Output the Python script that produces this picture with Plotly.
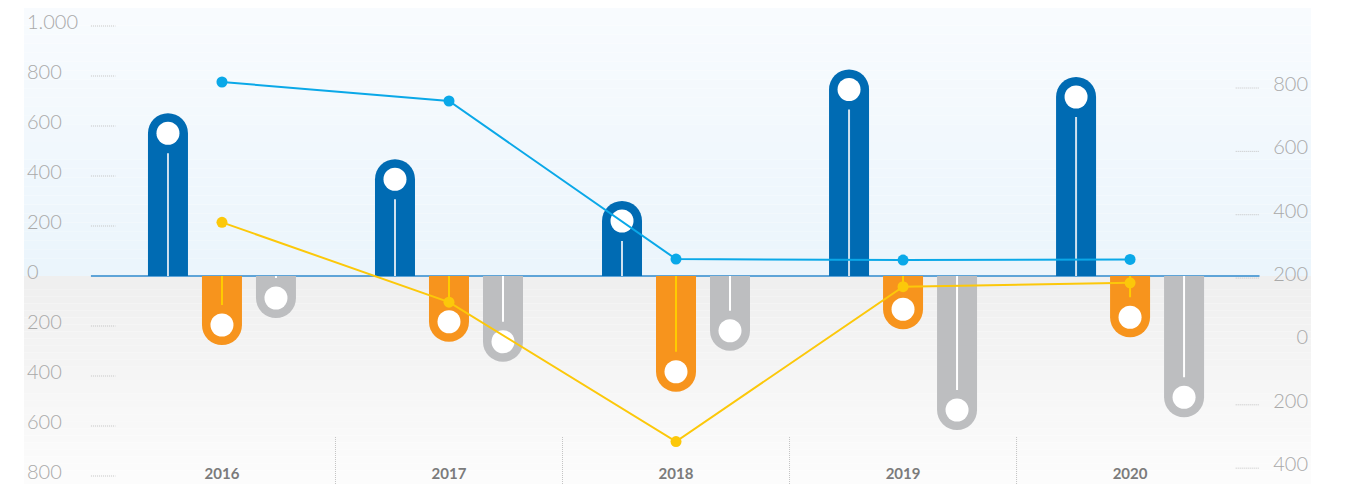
import plotly.graph_objects as go

years = ["2016", "2017", "2018", "2019", "2020"]
blue_bars = [651, 467, 300, 826, 796]
orange_bars = [-276, -263, -463, -213, -245]
gray_bars = [-168, -343, -299, -616, -565]
blue_line = [819, 759, 260, 257, 259]
yellow_line = [376, 124, -316, 173, 185]

left_ticks = [-800, -600, -400, -200, 0, 200, 400, 600, 800, 1000]
right_ticks = [-400, -200, 0, 200, 400, 600, 800]

# page has an 8px body margin, so the figure is drawn 8px smaller
W, H = 1337, 476
ML, MR = 16, 34
X_RANGE = [-0.872, 4.797]
Y_RANGE = [-832, 1072]
Y2_RANGE = [-450, 1052.6]

px_x = (W - ML - MR) / (X_RANGE[1] - X_RANGE[0])   # pixels per category
px_y = H / (Y_RANGE[1] - Y_RANGE[0])               # pixels per left-axis unit

BAR_W = 40 / px_x
GAP = 54 / px_x
CAP = 20 / px_y      # distance from bar end to circle centre
STEM = 40 / px_y     # distance from bar end to end of inner line


def fmt(v):
    return f"{abs(v):,}".replace(",", ".")


fig = go.Figure()

series = [
    (blue_bars, -GAP, "#006bb3", "#cfe1ef"),
    (orange_bars, 0, "#f7941d", "#ffcc00"),
    (gray_bars, GAP, "#bdbec0", "#ffffff"),
]

for vals, off, col, stem_col in series:
    xs = [i + off for i in range(len(years))]
    fig.add_trace(go.Bar(
        x=xs, y=vals, width=BAR_W,
        marker=dict(color=col, line_width=0, cornerradius="50%"),
        hoverinfo="skip",
    ))
    # inner thin line from base towards the circle
    lx, ly = [], []
    for x, v in zip(xs, vals):
        s = 1 if v > 0 else -1
        lx += [x, x, None]
        ly += [0, v - s * STEM, None]
    fig.add_trace(go.Scatter(
        x=lx, y=ly, mode="lines",
        line=dict(color=stem_col, width=2), hoverinfo="skip",
    ))
    # white circle near the bar end
    fig.add_trace(go.Scatter(
        x=xs, y=[v - (1 if v > 0 else -1) * CAP for v in vals],
        mode="markers", marker=dict(color="white", size=23, line_width=0),
        hoverinfo="skip",
    ))

fig.add_trace(go.Scatter(
    x=list(range(len(years))), y=blue_line, yaxis="y2", mode="lines+markers",
    line=dict(color="#0aa8e8", width=2), marker=dict(size=11, color="#0aa8e8"),
))
fig.add_trace(go.Scatter(
    x=list(range(len(years))), y=yellow_line, yaxis="y2", mode="lines+markers",
    line=dict(color="#fcc80a", width=2), marker=dict(size=11, color="#fcc80a"),
))

# background gradient: light blue above zero, light gray below
shapes = []
n = 30
def mix(a, b, t):
    return "rgb(%d,%d,%d)" % tuple(round(a[k] + (b[k] - a[k]) * t) for k in range(3))

for k in range(n):
    t = k / (n - 1)
    y0 = Y_RANGE[1] * k / n
    y1 = Y_RANGE[1] * (k + 1) / n
    shapes.append(dict(type="rect", xref="paper", yref="y", x0=0, x1=1, y0=y0, y1=y1,
                       fillcolor=mix((235, 245, 252), (248, 251, 254), t),
                       line_width=0, layer="below"))
    y0 = Y_RANGE[0] * k / n
    y1 = Y_RANGE[0] * (k + 1) / n
    shapes.append(dict(type="rect", xref="paper", yref="y", x0=0, x1=1, y0=y0, y1=y1,
                       fillcolor=mix((239, 239, 239), (252, 252, 252), t),
                       line_width=0, layer="below"))

dotted = dict(color="#c4c4c4", width=1, dash="1px,1px")

# dotted tick marks
for v in left_ticks:
    if v != 0:
        shapes.append(dict(type="line", xref="paper", yref="y", x0=0.052, x1=0.071, y0=v, y1=v,
                           line=dotted, layer="below"))
for v in right_ticks:
    if v != 0:
        shapes.append(dict(type="line", xref="paper", yref="y2", x0=0.9415, x1=0.96, y0=v, y1=v,
                           line=dotted, layer="below"))

# category separators at the bottom
for i in range(len(years) - 1):
    shapes.append(dict(type="line", xref="x", yref="paper", x0=i + 0.5, x1=i + 0.5, y0=0, y1=0.099,
                       line=dotted, layer="below"))

# zero line
shapes.append(dict(type="line", xref="paper", yref="y", x0=0.052, x1=0.96, y0=0, y1=0,
                   line=dict(color="#5ea4d8", width=2), layer="below"))

tick_font = dict(family="Lato, Roboto, sans-serif", size=20, color="#a9a9a9", weight=300)

fig.update_layout(
    width=W, height=H,
    margin=dict(l=ML, r=MR, t=0, b=0),
    paper_bgcolor="white", plot_bgcolor="white",
    showlegend=False, barmode="overlay", shapes=shapes,
    xaxis=dict(
        range=X_RANGE, tickvals=list(range(len(years))), ticktext=years,
        anchor="free", position=0.045,
        showgrid=False, zeroline=False, showline=False,
        tickfont=dict(family="Lato, Roboto, sans-serif", size=15, color="#7b7b7b", weight=700),
    ),
    yaxis=dict(
        range=Y_RANGE, tickvals=left_ticks, ticktext=[fmt(v) for v in left_ticks],
        ticklabelposition="inside", ticklabelshift=-4, showgrid=False, zeroline=False,
        showline=False, tickfont=tick_font,
    ),
    yaxis2=dict(
        range=Y2_RANGE, overlaying="y", side="right",
        tickvals=right_ticks, ticktext=[fmt(v) for v in right_ticks],
        ticklabelposition="inside", ticklabelshift=-4, showgrid=False, zeroline=False,
        showline=False, tickfont=tick_font,
    ),
)

fig.write_html("out.html")
